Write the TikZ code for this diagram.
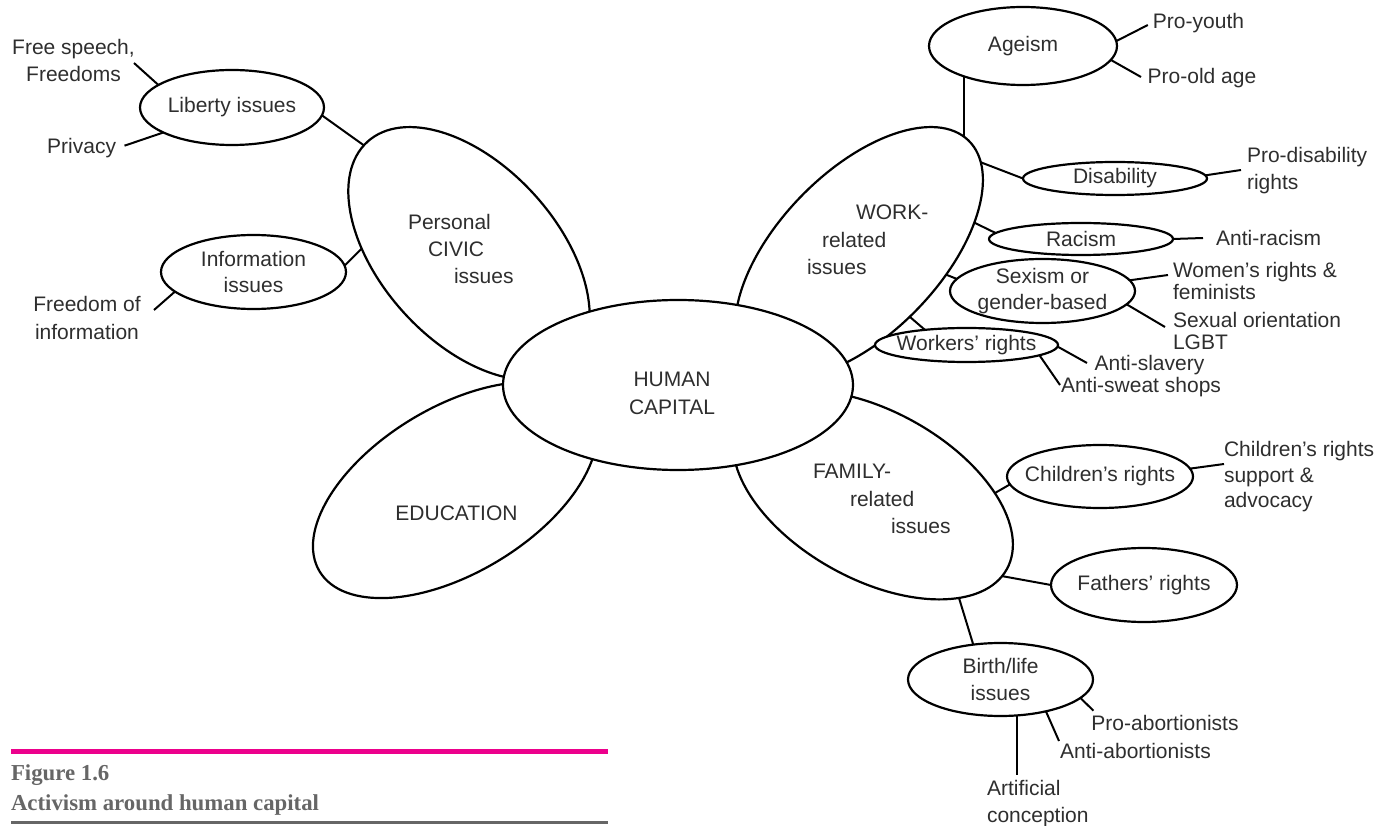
\documentclass[tikz,border=0pt]{standalone}
\usepackage{fontspec}
\setmainfont{Liberation Sans}
\newfontfamily\capfont{Liberation Serif}
\usetikzlibrary{shapes.geometric}
\pgfdeclarelayer{bg}
\pgfsetlayers{bg,main}
\definecolor{txt}{HTML}{2E2E2E}
\definecolor{pinkbar}{HTML}{EC008C}
\definecolor{capgray}{HTML}{666666}
\begin{document}
\begin{tikzpicture}[x=1pt,y=1pt,
  every node/.style={font=\fontsize{21}{26.5}\selectfont, text=txt, inner sep=0pt, outer sep=0pt, align=center},
  petal/.style={ellipse, draw=black, line width=2.2pt, fill=white},
  sm/.style={ellipse, draw=black, line width=2.2pt, fill=white},
  conn/.style={draw=black, line width=2pt},
  captxt/.style={font=\capfont\bfseries\fontsize{22.8}{27}\selectfont, text=capgray, anchor=base west, align=left}
]
\useasboundingbox (0,0) rectangle (1377,-826);

% ---- petals ----
\node[petal, minimum width=302pt, minimum height=176pt, rotate=-47.7] (personal) at (469,-253.5) {};
\node[petal, minimum width=316pt, minimum height=166pt, rotate=31] (education) at (455,-490) {};
\node[petal, minimum width=314pt, minimum height=162pt, rotate=45.8] (work) at (859,-253) {};
\node[petal, minimum width=306pt, minimum height=168pt, rotate=-29] (family) at (873,-495) {};
\node[petal, minimum width=350pt, minimum height=170pt] (human) at (678,-385) {};

% ---- petal texts ----
\node[anchor=west, align=left, font=\fontsize{21}{27.3}\selectfont] (personaltxt) at (408,-249) {Personal\\\hspace*{20pt}CIVIC\\\hspace*{46pt}issues};
\node[anchor=west, align=left, font=\fontsize{21}{27.3}\selectfont] (worktxt) at (807,-240) {\hspace*{49pt}WORK-\\\hspace*{15pt}related\\issues};
\node[anchor=west, align=left, font=\fontsize{21}{27.3}\selectfont] (familytxt) at (813,-499) {FAMILY-\\\hspace*{37pt}related\\\hspace*{78pt}issues};
\node (edutxt) at (456.5,-513) {EDUCATION};
\node[font=\fontsize{21}{28}\selectfont] (humantxt) at (672,-393) {HUMAN\\CAPITAL};

% ---- small ellipses ----
\node[sm, minimum width=184pt, minimum height=75pt, label=center:{Liberty issues}] (lib) at (232,-107.5) {};
\node[sm, minimum width=185pt, minimum height=74pt, label=center:{Information\\issues}] (info) at (253.5,-272) {};
\node[sm, minimum width=188pt, minimum height=78pt, label=center:{Ageism}] (ageism) at (1023,-46) {};
\node[sm, minimum width=184pt, minimum height=33pt, label=center:{Disability}] (disab) at (1115,-178.5) {};
\node[sm, minimum width=184pt, minimum height=32pt, label=center:{Racism}] (racism) at (1081,-239) {};
\node[sm, minimum width=185pt, minimum height=64pt, label=center:{Sexism or\\gender-based}] (sexism) at (1042.5,-291) {};
\node[sm, minimum width=183pt, minimum height=34pt, label=center:{Workers’ rights}] (workers) at (966.5,-345) {};
\node[sm, minimum width=186pt, minimum height=63pt, label=center:{Children’s rights}] (children) at (1100,-476.5) {};
\node[sm, minimum width=186pt, minimum height=74pt, label=center:{Fathers’ rights}] (fathers) at (1144,-585) {};
\node[sm, minimum width=185pt, minimum height=73pt, label=center:{Birth/life\\issues}] (birth) at (1000.5,-679.5) {};

% ---- outer labels ----
\node[font=\fontsize{21}{27.3}\selectfont] (tFS) at (73.5,-60.4) {Free speech,\\Freedoms};
\node (tPriv) at (81.6,-148) {Privacy};
\node[font=\fontsize{21}{28}\selectfont] (tFoI) at (87,-318) {Freedom of\\information};
\node (tPY) at (1198.5,-22.7) {Pro-youth};
\node (tPO) at (1202,-78) {Pro-old age};
\node[anchor=west, align=left, font=\fontsize{21}{27}\selectfont] (tPD) at (1247,-170.5) {Pro-disability\\rights};
\node (tAR) at (1268.7,-238) {Anti-racism};
\node[anchor=west, align=left, font=\fontsize{21}{22}\selectfont] (tWR) at (1173,-281) {Women’s rights \&\\feminists};
\node[anchor=west, align=left, font=\fontsize{21}{22}\selectfont] (tSO) at (1173,-331) {Sexual orientation\\LGBT};
\node (tAS) at (1149.5,-365) {Anti-slavery};
\node (tASS) at (1141,-387) {Anti-sweat shops};
\node[anchor=west, align=left, font=\fontsize{21}{25.5}\selectfont] (tCR) at (1224,-477) {Children’s rights\\support \&\\advocacy};
\node (tPA) at (1165,-723) {Pro-abortionists};
\node (tAA) at (1135.5,-751) {Anti-abortionists};
\node[anchor=west, align=left, font=\fontsize{21}{27}\selectfont] (tAC) at (987,-803.5) {Artificial\\conception};

% ---- connector end points ----
\coordinate (eFS) at (134,-63);
\coordinate (ePriv) at (124.5,-145.7);
\coordinate (eFoI) at (154,-310);
\coordinate (ePY) at (1147.8,-25);
\coordinate (ePO) at (1141,-77);
\coordinate (ePD) at (1241,-170);
\coordinate (eAR) at (1203,-238);
\coordinate (eWR) at (1168,-275);
\coordinate (eSO) at (1165,-327);
\coordinate (eAS) at (1087,-363);
\coordinate (eASS) at (1060,-385);
\coordinate (eCR) at (1224,-464);
\coordinate (ePA) at (1093.5,-710.7);
\coordinate (eAA) at (1059,-741);
\coordinate (eAC) at (1017,-775);
\coordinate (pLib) at (362,-144);
\coordinate (pInfo) at (363.6,-246.7);
\coordinate (wAge) at (963,-137);
\coordinate (wDis) at (980,-162);
\coordinate (wRac) at (975,-223);
\coordinate (wSex) at (947,-275);
\coordinate (wWork) at (910,-317);
\coordinate (fCh) at (995,-493);
\coordinate (fFa) at (1007,-577);
\coordinate (fBi) at (959,-598);

% ---- connectors (behind the shapes) ----
\begin{pgfonlayer}{bg}
\draw[conn, shorten <=-2pt] (lib.163.1) -- (eFS);
\draw[conn, shorten <=-2pt] (lib.-160.5) -- (ePriv);
\draw[conn, shorten <=-2pt, shorten >=-8pt] (lib.-5.8) -- (pLib);
\draw[conn, shorten <=-2pt, shorten >=-6pt] (info.4.4) -- (pInfo);
\draw[conn, shorten <=-2pt] (info.-166.1) -- (eFoI);
\draw[conn, shorten <=-2pt] (ageism.3.2) -- (ePY);
\draw[conn, shorten <=-2pt] (ageism.-9) -- (ePO);
\draw[conn, shorten <=-2pt, shorten >=-6pt] (ageism.-153.4) -- (ageism.-153.4 |- wAge);
\draw[conn, shorten <=-2pt, shorten >=-6pt] (disab.180) -- (wDis);
\draw[conn, shorten <=-2pt] (disab.2.2) -- (ePD);
\draw[conn, shorten <=-2pt, shorten >=-6pt] (racism.176.1) -- (wRac);
\draw[conn, shorten <=-2pt] (racism.0) -- (eAR);
\draw[conn, shorten <=-2pt, shorten >=-6pt] (sexism.172.7) -- (wSex);
\draw[conn, shorten <=-2pt] (sexism.7) -- (eWR);
\draw[conn, shorten <=-2pt] (sexism.-9.3) -- (eSO);
\draw[conn, shorten <=-2pt, shorten >=-6pt] (workers.160) -- (wWork);
\draw[conn, shorten <=-2pt] (workers.-1.9) -- (eAS);
\draw[conn, shorten <=-2pt] (workers.-8.7) -- (eASS);
\draw[conn, shorten <=-2pt, shorten >=-6pt] (children.185.5) -- (fCh);
\draw[conn, shorten <=-2pt] (children.5.2) -- (eCR);
\draw[conn, shorten <=-2pt, shorten >=-6pt] (fathers.180) -- (fFa);
\draw[conn, shorten <=-2pt, shorten >=-6pt] (birth.128.2) -- (fBi);
\draw[conn, shorten <=-2pt] (birth.-13) -- (ePA);
\draw[conn, shorten <=-2pt] (birth.-35) -- (eAA);
\draw[conn, shorten <=-2pt] (birth.-65.3) -- (birth.-65.3 |- eAC);
\end{pgfonlayer}

% ---- caption ----
\draw[pinkbar, line width=5pt] (11,-751) -- (608,-751);
\node[captxt] (cap1) at (11,-780) {Figure 1.6};
\node[captxt] (cap2) at (11,-810.5) {Activism around human capital};
\draw[capgray, line width=3pt] (11,-822.5) -- (608,-822.5);
\end{tikzpicture}
\end{document}
